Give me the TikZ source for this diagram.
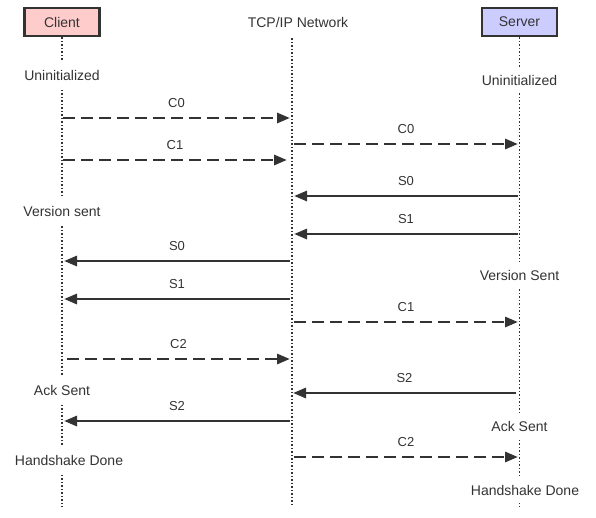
\documentclass[tikz,border=0pt]{standalone}
\usepackage{fontspec}
\setmainfont{Liberation Sans}
\usetikzlibrary{arrows.meta}
\definecolor{ink}{HTML}{333333}
\definecolor{clientfill}{HTML}{FFCCCC}
\definecolor{serverfill}{HTML}{CCCCFF}
\begin{document}
\begin{tikzpicture}[x=1pt,y=-1pt,
  actor/.style={draw=ink,line width=2.6pt,minimum width=75pt,minimum height=28pt,inner sep=0pt,font=\fontsize{14}{16}\selectfont,text=ink},
  lifeline/.style={draw=ink,line width=1.7pt,dash pattern=on 1.5pt off 2pt},
  state/.style={fill=white,inner xsep=2pt,inner ysep=8pt,font=\fontsize{14}{16}\selectfont,text=ink},
  msgsolid/.style={draw=ink,line width=2.9pt,-{Triangle[length=13pt,width=10pt]}},
  msgdash/.style={msgsolid,dash pattern=on 12pt off 6pt},
  lbl/.style={font=\fontsize{13}{15}\selectfont,text=ink,anchor=base}
]
\useasboundingbox (0,0) rectangle (596,517);
% actors
\node[actor,fill=clientfill] (client) at (62,22) {Client};
\node[actor,fill=serverfill] (server) at (519.5,22) {Server};
\node[font=\fontsize{14}{16}\selectfont,text=ink] (net) at (298,22) {TCP/IP Network};
% lifeline end points
\coordinate (cend) at (62,507);
\coordinate (ntop) at (292,38);
\coordinate (nend) at (292,507);
\coordinate (send) at (519.5,507);
\draw[lifeline] (client.south) -- (cend);
\draw[lifeline] (ntop) -- (nend);
\draw[lifeline] (server.south) -- (send);
% states
\node[state] (cs1) at (62,75) {Uninitialized};
\node[state] (cs2) at (62,211) {Version sent};
\node[state] (cs3) at (62,390) {Ack Sent};
\node[state] (cs4) at (69,460) {Handshake Done};
\node[state] (ss1) at (519.5,80) {Uninitialized};
\node[state] (ss2) at (519.5,275) {Version Sent};
\node[state] (ss3) at (519.5,426) {Ack Sent};
\node[state] (ss4) at (525,490) {Handshake Done};
% message end points
\coordinate (a1) at (63,118);  \coordinate (b1) at (290,118);
\coordinate (a2) at (63,160);  \coordinate (b2) at (287,160);
\coordinate (a3) at (294,144); \coordinate (b3) at (518,144);
\coordinate (a4) at (518,196); \coordinate (b4) at (294,196);
\coordinate (a5) at (518,234); \coordinate (b5) at (294,234);
\coordinate (a6) at (290,261); \coordinate (b6) at (64,261);
\coordinate (a7) at (290,299); \coordinate (b7) at (64,299);
\coordinate (a8) at (294,322); \coordinate (b8) at (518,322);
\coordinate (a9) at (67,359);  \coordinate (b9) at (290,359);
\coordinate (a10) at (516,393); \coordinate (b10) at (293,393);
\coordinate (a11) at (290,421); \coordinate (b11) at (64,421);
\coordinate (a12) at (294,457); \coordinate (b12) at (518,457);
% messages
\draw[msgdash] (a1) -- node[lbl,above=6pt] {C0} (b1);
\draw[msgdash] (a2) -- node[lbl,above=6pt] {C1} (b2);
\draw[msgdash] (a3) -- node[lbl,above=6pt] {C0} (b3);
\draw[msgsolid] (a4) -- node[lbl,above=6pt] {S0} (b4);
\draw[msgsolid] (a5) -- node[lbl,above=6pt] {S1} (b5);
\draw[msgsolid] (a6) -- node[lbl,above=6pt] {S0} (b6);
\draw[msgsolid] (a7) -- node[lbl,above=6pt] {S1} (b7);
\draw[msgdash] (a8) -- node[lbl,above=6pt] {C1} (b8);
\draw[msgdash] (a9) -- node[lbl,above=6pt] {C2} (b9);
\draw[msgsolid] (a10) -- node[lbl,above=6pt] {S2} (b10);
\draw[msgsolid] (a11) -- node[lbl,above=6pt] {S2} (b11);
\draw[msgdash] (a12) -- node[lbl,above=6pt] {C2} (b12);
\end{tikzpicture}
\end{document}
